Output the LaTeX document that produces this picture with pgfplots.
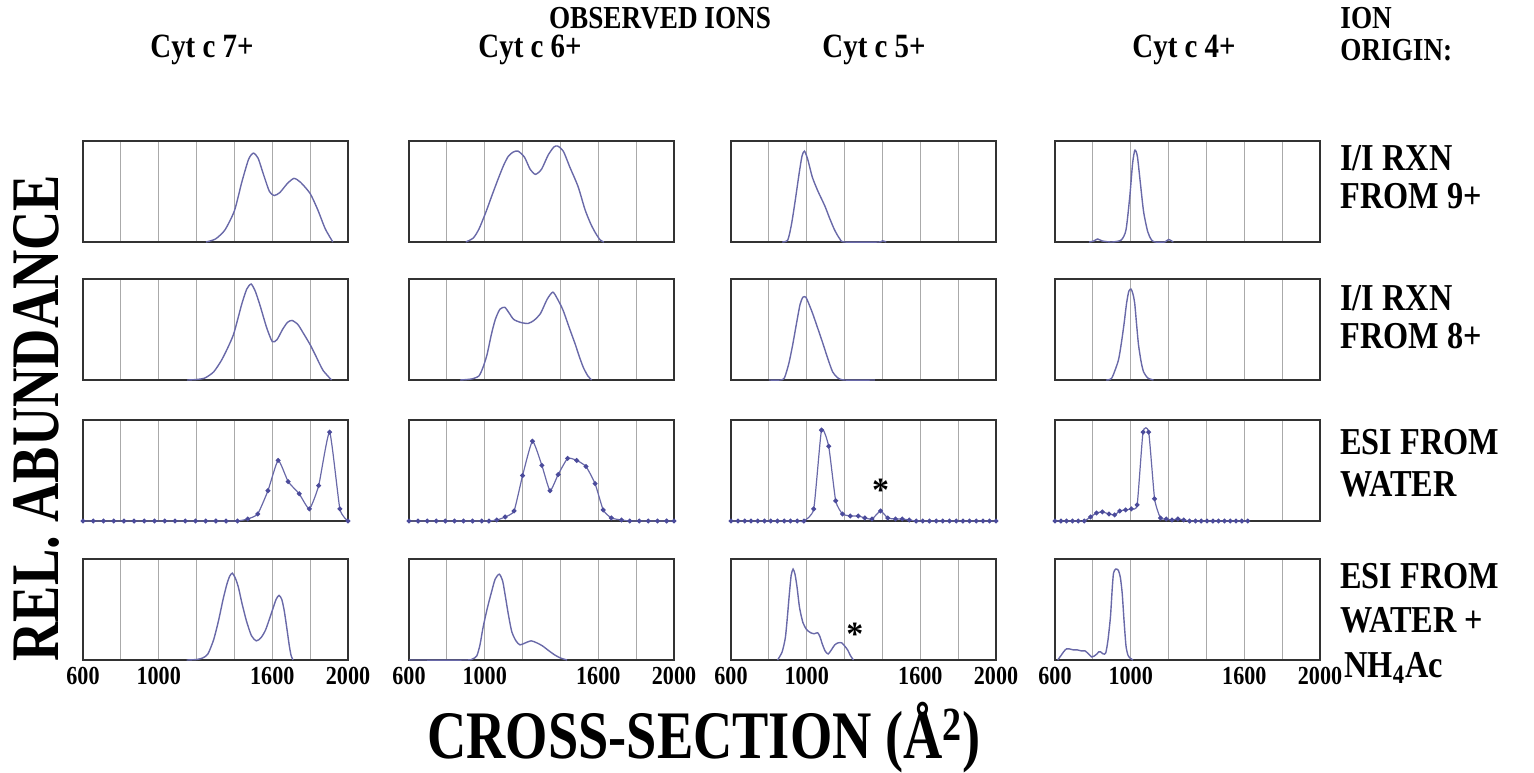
\documentclass[border=0pt]{standalone}
\usepackage{fontspec}
\setmainfont{Liberation Serif}
\usepackage{pgfplots}
\pgfplotsset{compat=1.18}
\definecolor{curvec}{RGB}{105,105,168}
\definecolor{markc}{RGB}{75,75,155}
\definecolor{gridc}{RGB}{170,170,170}
\definecolor{framec}{RGB}{50,50,50}
\newcommand{\lab}[3]{\scalebox{#1}[1]{\fontsize{#2}{#2}\selectfont\bfseries #3}}
\tikzset{lbl/.style={inner sep=0pt}}
\pgfplotsset{
 panel/.style={scale only axis, width=132.5pt, height=50.5pt,
   xmin=600, xmax=2000, ymin=0, ymax=1,
   xtick={600,800,...,2000}, xticklabels={}, ytick=\empty,
   xmajorgrids, major grid style={gridc, line width=0.5pt},
   major tick length=0pt, axis line style={framec, line width=0.8pt},
   anchor=south west,
   xticklabel style={font=\bfseries\fontsize{13}{13}\selectfont, xscale=0.85},
 },
 bottom/.style={xticklabels={600,,1000,,,1600,,2000}},
 curve/.style={curvec, line width=0.7pt, smooth, tension=0.4, mark=none},
 dots/.style={curvec, line width=0.6pt, smooth, tension=0.3, mark=*, mark size=0.9pt, mark options={fill=markc, draw=markc}},
}
\begin{document}
\begin{tikzpicture}
\path[use as bounding box] (0,0) rectangle (767pt,-386pt);
% ---------------- Row 1: I/I RXN from 9+
\begin{axis}[panel, at={(41.5pt,-121pt)}]
\addplot[curve] coordinates {(1250,0) (1300,0.03) (1350,0.12) (1400,0.31) (1440,0.6) (1475,0.82) (1500,0.88) (1525,0.83) (1555,0.66) (1585,0.5) (1610,0.46) (1640,0.49) (1680,0.58) (1715,0.63) (1750,0.59) (1800,0.48) (1840,0.32) (1880,0.13) (1920,0)};
\end{axis}
\begin{axis}[panel, at={(204.5pt,-121pt)}]
\addplot[curve] coordinates {(900,0) (940,0.04) (970,0.13) (1005,0.29) (1040,0.47) (1070,0.62) (1100,0.76) (1125,0.85) (1150,0.89) (1176,0.9) (1210,0.84) (1240,0.72) (1268,0.67) (1300,0.72) (1335,0.86) (1365,0.94) (1385,0.95) (1415,0.9) (1450,0.74) (1493,0.55) (1530,0.32) (1560,0.18) (1585,0.09) (1610,0.02) (1630,0)};
\end{axis}
\begin{axis}[panel, at={(365.5pt,-121pt)}]
\addplot[curve] coordinates {(870,0) (900,0.02) (920,0.18) (940,0.42) (960,0.68) (975,0.85) (988,0.9) (1005,0.82) (1030,0.64) (1060,0.5) (1095,0.36) (1120,0.24) (1147,0.12) (1175,0.03) (1200,0) (1380,0) (1400,0.012) (1420,0)};
\end{axis}
\begin{axis}[panel, at={(527.5pt,-121pt)}]
\addplot[curve] coordinates {(780,0) (805,0.01) (825,0.03) (850,0.01) (900,0) (950,0.02) (975,0.12) (995,0.45) (1010,0.78) (1022,0.91) (1035,0.85) (1050,0.6) (1068,0.3) (1090,0.1) (1110,0.02) (1130,0) (1180,0) (1200,0.025) (1225,0)};
\end{axis}
% ---------------- Row 2: I/I RXN from 8+
\begin{axis}[panel, at={(41.5pt,-190pt)}]
\addplot[curve] coordinates {(1150,0) (1200,0.005) (1244,0.02) (1290,0.08) (1330,0.19) (1365,0.32) (1395,0.45) (1420,0.62) (1440,0.76) (1465,0.9) (1488,0.95) (1510,0.88) (1535,0.74) (1570,0.52) (1600,0.38) (1625,0.4) (1654,0.5) (1680,0.57) (1704,0.59) (1735,0.55) (1762,0.47) (1800,0.35) (1827,0.25) (1850,0.16) (1870,0.09) (1913,0)};
\end{axis}
\begin{axis}[panel, at={(204.5pt,-190pt)}]
\addplot[curve] coordinates {(870,0) (930,0.01) (969,0.04) (990,0.12) (1012,0.25) (1035,0.45) (1056,0.6) (1080,0.7) (1106,0.72) (1130,0.66) (1153,0.6) (1190,0.57) (1229,0.56) (1260,0.59) (1295,0.66) (1330,0.8) (1360,0.87) (1385,0.8) (1414,0.69) (1450,0.5) (1479,0.35) (1500,0.23) (1522,0.12) (1545,0.04) (1565,0)};
\end{axis}
\begin{axis}[panel, at={(365.5pt,-190pt)}]
\addplot[curve] coordinates {(800,0) (860,0) (882,0.02) (905,0.16) (925,0.34) (945,0.55) (965,0.75) (980,0.82) (995,0.82) (1010,0.76) (1031,0.66) (1055,0.53) (1084,0.37) (1110,0.22) (1137,0.08) (1165,0.02) (1200,0) (1360,0)};
\end{axis}
\begin{axis}[panel, at={(527.5pt,-190pt)}]
\addplot[curve] coordinates {(870,0) (900,0.02) (934,0.19) (950,0.36) (965,0.56) (978,0.76) (990,0.88) (1002,0.9) (1012,0.85) (1021,0.76) (1031,0.55) (1041,0.35) (1055,0.18) (1068,0.08) (1090,0.02) (1120,0)};
\end{axis}
% ---------------- Row 3: ESI from water
\begin{axis}[panel, clip=false, at={(41.5pt,-260.5pt)}]
\addplot[dots] coordinates {(600,0) (654,0) (708,0) (762,0) (816,0) (870,0) (924,0) (978,0) (1032,0) (1086,0) (1140,0) (1194,0) (1248,0) (1302,0) (1356,0) (1416,0) (1470,0.02) (1523,0.07) (1577,0.30) (1631,0.60) (1684,0.39) (1742,0.27) (1796,0.12) (1845,0.35) (1903,0.88) (1957,0.12) (2000,0)};
\end{axis}
\begin{axis}[panel, clip=false, at={(204.5pt,-260.5pt)}]
\addplot[dots] coordinates {(600,0) (648,0) (696,0) (744,0) (792,0) (840,0) (888,0) (936,0) (984,0) (1022,0) (1064,0.01) (1108,0.04) (1155,0.10) (1200,0.45) (1252,0.79) (1302,0.55) (1345,0.30) (1388,0.46) (1438,0.62) (1486,0.60) (1535,0.54) (1583,0.37) (1626,0.11) (1669,0.03) (1723,0.01) (1766,0) (1816,0) (1864,0) (1913,0) (1961,0) (2000,0)};
\end{axis}
\begin{axis}[panel, clip=false, at={(365.5pt,-260.5pt)}]
\addplot[dots] coordinates {(600,0) (637,0) (673,0) (706,0) (741,0) (777,0) (810,0) (845,0) (881,0) (914,0) (950,0) (985,0) (1037,0.12) (1078,0.90) (1116,0.74) (1153,0.20) (1189,0.07) (1230,0.05) (1272,0.05) (1307,0.03) (1345,0.02) (1390,0.10) (1428,0.03) (1469,0.02) (1505,0.02) (1542,0.01) (1578,0) (1613,0) (1648,0) (1684,0) (1719,0) (1754,0) (1790,0) (1825,0) (1860,0) (1896,0) (1931,0) (1966,0) (2000,0)};
\node at (axis cs:1390,0.3) {\lab{1}{17}{*}};
\end{axis}
\begin{axis}[panel, clip=false, at={(527.5pt,-260.5pt)}]
\addplot[dots] coordinates {(600,0) (631,0) (661,0) (692,0) (723,0) (754,0) (788,0.04) (819,0.08) (850,0.09) (885,0.07) (915,0.06) (942,0.10) (973,0.11) (1003,0.12) (1034,0.16) (1065,0.88) (1095,0.88) (1126,0.22) (1157,0.03) (1188,0.02) (1218,0.01) (1249,0.02) (1280,0.01) (1311,0) (1342,0) (1372,0) (1403,0) (1434,0) (1464,0) (1495,0) (1526,0) (1556,0) (1587,0) (1618,0)};
\end{axis}
% ---------------- Row 4: ESI from water + NH4Ac
\begin{axis}[panel, bottom, at={(41.5pt,-330pt)}]
\addplot[curve] coordinates {(1147,0) (1200,0.005) (1232,0.02) (1260,0.06) (1290,0.2) (1316,0.39) (1340,0.6) (1360,0.75) (1375,0.83) (1389,0.86) (1405,0.81) (1421,0.72) (1440,0.56) (1463,0.39) (1490,0.24) (1516,0.19) (1540,0.22) (1565,0.3) (1600,0.49) (1620,0.6) (1636,0.64) (1650,0.6) (1663,0.49) (1678,0.3) (1690,0.14) (1700,0.04) (1710,0)};
\end{axis}
\begin{axis}[panel, bottom, at={(204.5pt,-330pt)}]
\addplot[curve] coordinates {(600,0) (900,0) (935,0.01) (958,0.04) (975,0.15) (991,0.32) (1012,0.5) (1034,0.66) (1055,0.8) (1077,0.85) (1095,0.78) (1110,0.62) (1125,0.45) (1143,0.28) (1165,0.19) (1186,0.15) (1215,0.17) (1245,0.19) (1275,0.17) (1305,0.14) (1340,0.09) (1370,0.05) (1400,0.02) (1435,0)};
\end{axis}
\begin{axis}[panel, bottom, at={(365.5pt,-330pt)}]
\addplot[curve] coordinates {(846,0) (870,0.08) (887,0.22) (898,0.43) (908,0.65) (918,0.84) (928,0.9) (938,0.85) (949,0.72) (962,0.52) (980,0.37) (1000,0.3) (1021,0.27) (1040,0.26) (1058,0.27) (1070,0.23) (1082,0.16) (1097,0.09) (1113,0.06) (1130,0.1) (1148,0.15) (1166,0.17) (1185,0.17) (1200,0.14) (1216,0.1) (1232,0.04) (1247,0)};
\node at (axis cs:1255,0.25) {\lab{1}{17}{*}};
\end{axis}
\begin{axis}[panel, bottom, at={(527.5pt,-330pt)}]
\addplot[curve] coordinates {(614,0) (630,0.04) (645,0.08) (660,0.11) (676,0.11) (697,0.1) (718,0.1) (740,0.09) (759,0.09) (777,0.06) (794,0.03) (808,0.04) (821,0.06) (831,0.08) (841,0.08) (855,0.06) (868,0.07) (880,0.2) (893,0.43) (902,0.7) (909,0.86) (920,0.9) (934,0.89) (945,0.82) (955,0.66) (965,0.38) (975,0.14) (985,0.05) (996,0.02) (1012,0)};
\end{axis}
% ---------------- titles
\node[lbl] at (330pt,-9pt) {\lab{0.85}{16}{OBSERVED IONS}};
\node[lbl] at (101pt,-25pt) {\lab{0.85}{17}{Cyt c 7+}};
\node[lbl] at (265pt,-25pt) {\lab{0.85}{17}{Cyt c 6+}};
\node[lbl] at (437pt,-25pt) {\lab{0.85}{17}{Cyt c 5+}};
\node[lbl] at (592pt,-25pt) {\lab{0.85}{17}{Cyt c 4+}};
\node[lbl, anchor=west] at (670pt,-9pt) {\lab{0.85}{16}{ION}};
\node[lbl, anchor=west] at (670pt,-25pt) {\lab{0.85}{16}{ORIGIN:}};
\node[lbl, anchor=west] at (670pt,-79pt) {\lab{0.85}{19}{I/I RXN}};
\node[lbl, anchor=west] at (670pt,-98pt) {\lab{0.85}{19}{FROM 9+}};
\node[lbl, anchor=west] at (670pt,-149pt) {\lab{0.85}{19}{I/I RXN}};
\node[lbl, anchor=west] at (670pt,-168pt) {\lab{0.85}{19}{FROM 8+}};
\node[lbl, anchor=west] at (670pt,-221pt) {\lab{0.85}{19}{ESI FROM}};
\node[lbl, anchor=west] at (670pt,-242pt) {\lab{0.85}{19}{WATER}};
\node[lbl, anchor=west] at (670pt,-288pt) {\lab{0.85}{19}{ESI FROM}};
\node[lbl, anchor=west] at (670pt,-310pt) {\lab{0.85}{19}{WATER +}};
\node[lbl, anchor=west] at (672pt,-334pt) {\lab{0.85}{19}{NH\textsubscript{4}Ac}};
\node[lbl] at (352pt,-369pt) {\lab{0.8}{34}{CROSS-SECTION (Å\textsuperscript{2})}};
\node[lbl, rotate=90] at (18pt,-209pt) {\lab{0.8}{34}{REL. ABUNDANCE}};
\end{tikzpicture}
\end{document}
